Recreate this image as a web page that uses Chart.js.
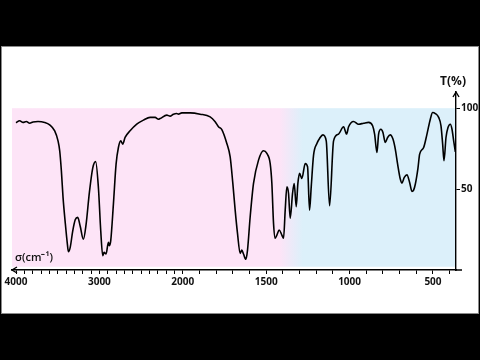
<!DOCTYPE html>
<html>
<head>
<meta charset="utf-8">
<script src="https://cdn.jsdelivr.net/npm/chart.js@4"></script>
<style>
  html, body { margin: 0; padding: 0; background: #000; width: 480px; height: 360px; overflow: hidden; }
  #panel { position: absolute; left: 2px; top: 47px; width: 476px; height: 266px; background: #fff; outline: 1px solid #8a8a8a; }
</style>
</head>
<body>
<div id="panel"><canvas id="irChart"></canvas></div>
<script>
// IR spectrum, wavenumber (cm-1) vs transmittance (%)
const wavenumbers = [
    4000, 3956, 3916, 3876, 3836, 3796, 3736, 3656, 3596, 3536, 3496, 3476, 3456, 3436, 3408, 3384, 3372,
    3350, 3320, 3290, 3260, 3230, 3192, 3160, 3120, 3080, 3045, 3012, 2984, 2960, 2944, 2920, 2892, 2880,
    2864, 2832, 2800, 2772, 2744, 2720, 2692, 2632, 2552, 2472, 2392, 2332, 2292, 2272, 2192, 2152, 2112,
    2072, 2052, 2012, 1956, 1896, 1836, 1806, 1786, 1766, 1736, 1716, 1700, 1686, 1672, 1656, 1646, 1636,
    1622, 1612, 1596, 1576, 1546, 1516, 1496, 1476, 1466, 1456, 1446, 1436, 1422, 1406, 1396, 1386, 1376,
    1366, 1356, 1342, 1332, 1320, 1310, 1300, 1286, 1266, 1252, 1240, 1230, 1216, 1196, 1180, 1160, 1140,
    1120, 1096, 1066, 1036, 1018, 1006, 976, 946, 916, 886, 862, 850, 836, 826, 812, 800, 786, 772, 756,
    740, 726, 712, 696, 686, 672, 656, 640, 626, 616, 606, 590, 580, 556, 536, 516, 502, 486, 466, 452,
    442, 434, 422, 410, 396, 386, 376, 366
];
const transmittance = [
    91, 92.2, 91.2, 91.8, 90.7, 91.5, 91.8, 91.2, 89.7, 86, 79.8, 73.7, 61.3, 44.9, 28.4, 16, 11.3,
    14, 24, 31, 32.5, 27, 19, 28, 48, 63, 67, 51, 24.3, 8.8, 10.9, 9.9, 17.1, 15,
    18.1, 40.7, 65.4, 75.7, 79.8, 77.8, 81.9, 86, 90.1, 92.6, 94.3, 94.3, 93.2, 93.6, 95.7, 95.1, 96.3,
    96.7, 96.3, 97.1, 97.1, 96.3, 94.6, 91.6, 88.5, 86.8, 78.2, 69.9, 53.5, 37, 22.6, 10.3, 12.3, 9.9,
    6.6, 12.3, 32.9, 53.5, 67.9, 73.7, 72, 65.8, 53.5, 28.8, 19.6, 21.6, 24.7, 21.6, 19.6, 37, 51.4,
    47.3, 31.9, 47.3, 53.5, 39.1, 53.5, 59.7, 56.6, 65.8, 63.8, 37, 51.4, 71, 78.2, 81.3, 83.5, 79.8,
    39.7, 79.8, 84, 88.5, 84, 88.5, 91.8, 90.1, 90.7, 91.2, 89.1, 84, 72.6, 84, 87, 85, 78.8, 81.9, 83.5,
    80.9, 74.7, 65.4, 56.2, 53.7, 57.2, 58.8, 54.1, 48.6, 49.4, 53, 63, 71.6, 75.7, 84, 93.2, 97.3, 96.7, 94.3, 89.1,
    77.8, 67.5, 81.9, 88.1, 90.1, 87, 79.8, 73
];
const labelledWavenumbers = [4000, 3000, 2000, 1500, 1000, 500];
const yTickValues = [50, 100];

// axis is compressed 2:1 above 2000 cm-1
const toPos = w => (w >= 2000 ? (4000 - w) / 2 : 3000 - w);
const fromPos = p => Math.round(p <= 1000 ? 4000 - 2 * p : 3000 - p);

const minorTicks = [];
for (let w = 4000; w >= 400; w -= 100) minorTicks.push(w);

const colors = {
    pink: '#fde4f7',
    blue: '#dcf0fa',
    ink: '#111111'
};
const tickFont = { family: 'Open Sans', size: 10, weight: 'bold' };

const decorPlugin = {
    id: 'decor',
    beforeDraw(chart) {
        const { ctx, chartArea, scales } = chart;
        const top = scales.y.getPixelForValue(100);
        const bottom = scales.y.getPixelForValue(2);
        const x0 = chartArea.left, x1 = chartArea.right - 1;
        const g = ctx.createLinearGradient(scales.x.getPixelForValue(toPos(1420)), 0, scales.x.getPixelForValue(toPos(1280)), 0);
        g.addColorStop(0, colors.pink);
        g.addColorStop(1, colors.blue);
        ctx.save();
        ctx.fillStyle = g;
        ctx.fillRect(x0, top, x1 - x0, bottom - top);
        ctx.restore();
    },
    afterDraw(chart) {
        const { ctx, chartArea } = chart;
        const yb = chartArea.bottom, xr = chartArea.right;
        ctx.save();
        ctx.strokeStyle = '#000';
        ctx.lineWidth = 1.4;
        ctx.beginPath();
        // extend x axis past the y axis
        ctx.moveTo(xr, yb);
        ctx.lineTo(xr + 6, yb);
        // left arrow on x axis
        ctx.moveTo(chartArea.left + 5, yb - 3);
        ctx.lineTo(chartArea.left, yb);
        ctx.lineTo(chartArea.left + 5, yb + 3);
        // up arrow on y axis
        ctx.moveTo(xr - 3, chartArea.top + 5);
        ctx.lineTo(xr, chartArea.top);
        ctx.lineTo(xr + 3, chartArea.top + 5);
        ctx.stroke();

        ctx.fillStyle = colors.ink;
        ctx.font = 'bold 12px "Open Sans"';
        ctx.textAlign = 'center';
        ctx.textBaseline = 'middle';
        ctx.fillText('T(%)', xr - 3, chartArea.top - 10);
        ctx.font = '600 11px "Open Sans"';
        ctx.textAlign = 'left';
        ctx.fillText('σ(cm⁻¹)', chartArea.left + 3, yb - 12);
        ctx.restore();
    }
};

const spectrumCtx = document.getElementById('irChart').getContext('2d');
new Chart(spectrumCtx, {
    type: 'line',
    data: {
        datasets: [{
            data: wavenumbers.map((w, i) => ({ x: toPos(w), y: transmittance[i] })),
            borderColor: '#000',
            borderWidth: 1.6,
            pointRadius: 0,
            fill: false,
            cubicInterpolationMode: 'monotone'
        }]
    },
    options: {
        animation: false,
        responsive: true,
        maintainAspectRatio: false,
        layout: { padding: { left: 10, top: 45, right: 0, bottom: 0 } },
        plugins: {
            legend: { display: false },
            tooltip: { enabled: false }
        },
        scales: {
            x: {
                type: 'linear',
                position: 'bottom',
                min: toPos(4048),
                max: toPos(362),
                border: { display: true, color: '#000', width: 1.4 },
                grid: { drawOnChartArea: false, drawTicks: true, tickLength: 4, tickColor: '#000', tickWidth: 1 },
                ticks: {
                    autoSkip: false,
                    maxRotation: 0,
                    padding: 2,
                    color: colors.ink,
                    font: tickFont,
                    callback: value => {
                        const w = fromPos(value);
                        return labelledWavenumbers.includes(w) ? String(w) : '';
                    }
                },
                afterBuildTicks: scale => {
                    scale.ticks = minorTicks.map(w => ({ value: toPos(w) }));
                },
                afterFit: scale => { scale.height = 43; }
            },
            y: {
                position: 'right',
                min: 0,
                max: 110,
                border: { display: true, color: '#000', width: 1.4 },
                grid: { drawOnChartArea: false, drawTicks: true, tickLength: 4, tickColor: '#000', tickWidth: 1 },
                ticks: {
                    padding: 1,
                    color: colors.ink,
                    font: tickFont
                },
                afterBuildTicks: scale => {
                    scale.ticks = yTickValues.map(v => ({ value: v }));
                },
                afterFit: scale => { scale.width = 22; }
            }
        }
    },
    plugins: [decorPlugin]
});
</script>
</body>
</html>
